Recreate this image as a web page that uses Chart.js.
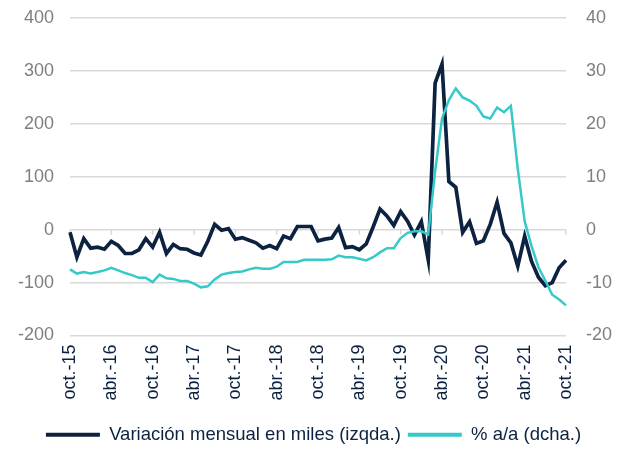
<!DOCTYPE html>
<html>
<head>
<meta charset="utf-8">
<script src="https://cdn.jsdelivr.net/npm/chart.js@4/dist/chart.umd.min.js"></script>
<style>
  body { margin: 0; background: #fff; }
  #wrap { width: 627px; height: 454px; }
</style>
</head>
<body>
<div id="wrap"><canvas id="myChart" width="627" height="454"></canvas></div>
<script>
// Data ---------------
const months = [
  'oct.-15','nov.-15','dic.-15','ene.-16','feb.-16','mar.-16','abr.-16','may.-16','jun.-16','jul.-16','ago.-16','sept.-16',
  'oct.-16','nov.-16','dic.-16','ene.-17','feb.-17','mar.-17','abr.-17','may.-17','jun.-17','jul.-17','ago.-17','sept.-17',
  'oct.-17','nov.-17','dic.-17','ene.-18','feb.-18','mar.-18','abr.-18','may.-18','jun.-18','jul.-18','ago.-18','sept.-18',
  'oct.-18','nov.-18','dic.-18','ene.-19','feb.-19','mar.-19','abr.-19','may.-19','jun.-19','jul.-19','ago.-19','sept.-19',
  'oct.-19','nov.-19','dic.-19','ene.-20','feb.-20','mar.-20','abr.-20','may.-20','jun.-20','jul.-20','ago.-20','sept.-20',
  'oct.-20','nov.-20','dic.-20','ene.-21','feb.-21','mar.-21','abr.-21','may.-21','jun.-21','jul.-21','ago.-21','sept.-21',
  'oct.-21'
];

// variación mensual en miles (eje izq.)
const monthlyChange = [
  -5, -52, -17, -35, -33, -37, -22, -30, -45, -45, -38, -17,
  -33, -5, -45, -28, -36, -37, -44, -48, -22, 10, -1, 2,
  -18, -15, -20, -25, -35, -30, -36, -12, -17, 6, 6, 6,
  -21, -18, -16, 4, -34, -32, -38, -27, 5, 39, 26, 8,
  34, 16, -10, 15, -57, 277, 313, 91, 80, -5, 15, -26,
  -21, 10, 52, -7, -25, -69, -12, -60, -90, -106, -100, -72,
  -58
];

// % a/a (eje dcho.)
const yoyPct = [
  -7.5, -8.3, -8.0, -8.3, -8.0, -7.7, -7.2, -7.7, -8.2, -8.6, -9.1, -9.1,
  -9.9, -8.5, -9.2, -9.3, -9.7, -9.7, -10.2, -10.9, -10.7, -9.4, -8.5, -8.2,
  -8.0, -7.9, -7.5, -7.2, -7.4, -7.4, -7.0, -6.1, -6.1, -6.1, -5.7, -5.7,
  -5.7, -5.7, -5.6, -4.9, -5.2, -5.2, -5.5, -5.8, -5.2, -4.3, -3.5, -3.5,
  -1.6, -0.6, -0.3, -0.3, -0.9, 11, 21, 24.5, 26.7, 25, 24.4, 23.4,
  21.4, 21.0, 23.1, 22.2, 23.4, 11.5, 1.6, -3.1, -7.1, -9.6, -12.3, -13.2,
  -14.3
];

const leftTicks = [-200, 400, 100];   // min, max, step
const rightTicks = [-20, 40, 10];

const navy = '#0c2240';
const teal = '#36c9c9';
const gridGrey = '#d9d9d9';

Chart.defaults.font.family = '"Liberation Sans", Arial, sans-serif';
Chart.defaults.font.size = 18;

// small tick marks on the zero line, like the excel axis
const zeroTicks = {
  id: 'zeroTicks',
  beforeDatasetsDraw(chart) {
    const x = chart.scales.x, y = chart.scales.y;
    const y0 = y.getPixelForValue(0);
    const c = chart.ctx;
    c.save();
    c.strokeStyle = gridGrey;
    c.lineWidth = 1.5;
    for (let i = 0; i < months.length; i += 6) {
      const px = x.getPixelForValue(i);
      c.beginPath();
      c.moveTo(px, y0);
      c.lineTo(px, y0 + 5);
      c.stroke();
    }
    c.restore();
  }
};

// keep the label padding from pushing the plot area down
function fixY(width) {
  return function (scale) {
    scale.width = width;
    scale.paddingTop = 0;
    scale.paddingBottom = 0;
  };
}

const ctx = document.getElementById('myChart');

new Chart(ctx, {
  type: 'line',
  data: {
    labels: months,
    datasets: [{
      label: 'Variación mensual en miles (izqda.)',
      data: monthlyChange,
      borderColor: navy,
      backgroundColor: navy,
      borderWidth: 3.7,
      pointRadius: 0,
      tension: 0,
      yAxisID: 'y',
      order: 1
    }, {
      label: '% a/a (dcha.)',
      data: yoyPct,
      borderColor: teal,
      backgroundColor: teal,
      borderWidth: 2.5,
      pointRadius: 0,
      tension: 0,
      yAxisID: 'y1',
      order: 0
    }]
  },
  options: {
    responsive: false,
    animation: false,
    layout: { padding: { top: 18, left: 0, right: 0, bottom: 0 } },
    plugins: {
      tooltip: { enabled: false },
      legend: {
        position: 'bottom',
        labels: {
          color: navy,
          boxWidth: 54,
          boxHeight: 4,
          padding: 7,
          font: { size: 18.5 },
          sort: (a, b) => a.datasetIndex - b.datasetIndex,
          generateLabels(chart) {
            const items = Chart.defaults.plugins.legend.labels.generateLabels(chart);
            items.forEach(it => { it.lineWidth = 0; it.fillStyle = it.strokeStyle; });
            return items;
          }
        }
      }
    },
    scales: {
      x: {
        offset: false,
        grid: { display: false, drawTicks: false },
        border: { display: false },
        ticks: {
          autoSkip: false,
          minRotation: 90,
          maxRotation: 90,
          padding: 9,
          color: navy,
          callback: (v, i) => (i % 6 === 0 ? months[i] : null)
        },
        afterFit(scale) { scale.height = 83; }
      },
      y: {
        position: 'left',
        min: leftTicks[0],
        max: leftTicks[1],
        ticks: { stepSize: leftTicks[2], color: '#7f7f7f', padding: 16 },
        grid: { color: gridGrey, lineWidth: 1.5, drawTicks: false },
        border: { display: false },
        afterFit: fixY(70)
      },
      y1: {
        position: 'right',
        min: rightTicks[0],
        max: rightTicks[1],
        ticks: { stepSize: rightTicks[2], color: '#7f7f7f', padding: 20 },
        grid: { display: false, drawTicks: false },
        border: { display: false },
        afterFit: fixY(61)
      }
    }
  },
  plugins: [zeroTicks]
});
</script>
</body>
</html>
